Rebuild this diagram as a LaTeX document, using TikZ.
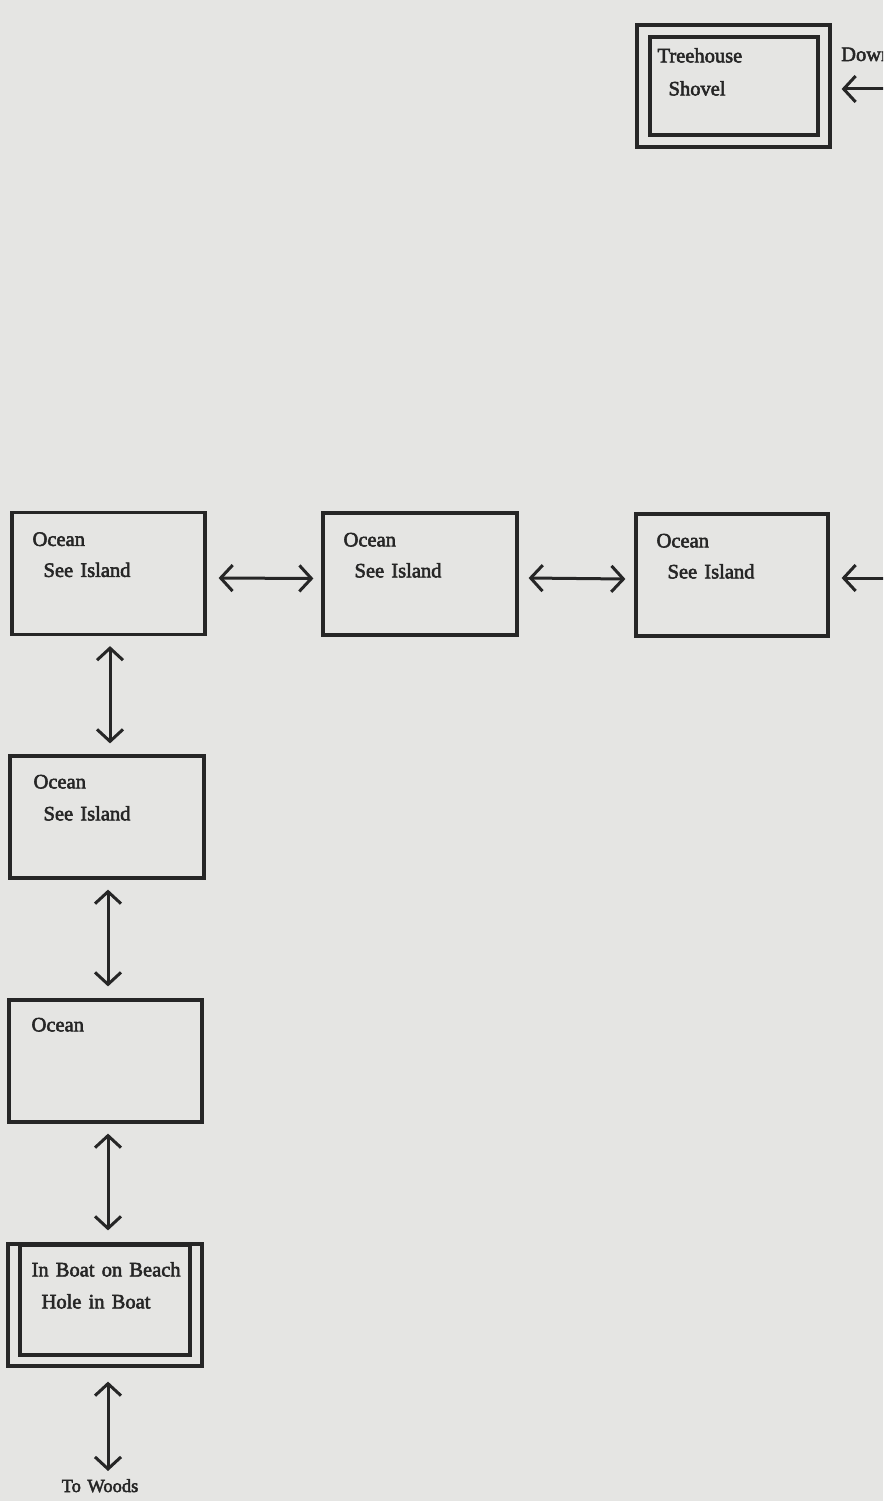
\documentclass[tikz,border=0pt]{standalone}
\usepackage{fontspec}
\newfontfamily\roomfont{Liberation Serif}[UprightFeatures={FakeBold=2.6}, WordSpace=1.4]
\usetikzlibrary{arrows.meta}
\definecolor{paper}{HTML}{E5E5E3}
\definecolor{ink}{HTML}{262626}
\tikzset{
  room/.style={draw=ink, line width=3.2pt, rectangle, inner sep=0pt,
               minimum width=#1, minimum height=122pt},
  room/.default=193pt,
  lbl/.style={text=ink, inner sep=0pt, anchor=base west, font=\roomfont\fontsize{20.5}{24}\selectfont},
  both/.style={draw=ink, line width=3pt, {Straight Barb[length=12pt,width=26pt]}-{Straight Barb[length=12pt,width=26pt]}},
  into/.style={draw=ink, line width=3pt, -{Straight Barb[length=12pt,width=26pt]}}
}
\begin{document}
\begin{tikzpicture}[x=1pt, y=-1pt]
  \useasboundingbox (0,0) rectangle (883,1501);
  \fill[paper] (0,0) rectangle (883,1501);
  \clip (0,0) rectangle (883,1501);

  % Treehouse (double frame)
  \node[room] (tree) at (733.5,86) {};
  \node[room, minimum width=168pt, minimum height=98pt] (treein) at (734,86) {};
  \node[lbl] (t1) at ([xshift=9pt,yshift=-27pt]treein.north west) {Treehouse};
  \node[lbl] (t2) at ([xshift=20pt,yshift=-60pt]treein.north west) {Shovel};
  \node[lbl] (down) at (841,61) {Down};
  \coordinate (downin) at (890,89);
  \draw[into] (downin) -- ([xshift=10pt,yshift=-3pt]tree.east);

  % Row of ocean rooms
  \node[room] (A) at (108.5,573.5) {};
  \node[room, minimum width=194pt] (B) at (420,574) {};
  \node[room, minimum width=192pt] (C) at (732,575) {};
  \foreach \r in {A,B,C}{
    \node[lbl] (\r1) at ([xshift=22pt,yshift=-35pt]\r.north west) {Ocean};
    \node[lbl] (\r2) at ([xshift=33pt,yshift=-66pt]\r.north west) {See Island};
  }
  \draw[both] ([xshift=12pt,yshift=-4.5pt]A.east) -- ([xshift=-8pt,yshift=-4.5pt]B.west);
  \draw[both] ([xshift=10pt,yshift=-4pt]B.east) -- ([xshift=-9pt,yshift=-4pt]C.west);
  \coordinate (eastin) at (890,578);
  \draw[into] (eastin) -- ([xshift=12pt,yshift=-3pt]C.east);

  % Column down to the beach
  \node[room, minimum width=194pt] (D) at (107,817) {};
  \node[lbl] (D1) at ([xshift=25pt,yshift=-34pt]D.north west) {Ocean};
  \node[lbl] (D2) at ([xshift=35pt,yshift=-66pt]D.north west) {See Island};
  \node[room] (E) at (105.5,1061) {};
  \node[lbl] (E1) at ([xshift=24pt,yshift=-33pt]E.north west) {Ocean};

  \node[room, minimum width=194pt] (F) at (105,1305) {};
  \node[draw=ink, line width=3.2pt, inner sep=0pt, minimum width=170pt, minimum height=110pt] (Fin) at (105,1300) {};
  \node[lbl] (F1) at ([xshift=25pt,yshift=-34pt]F.north west) {In Boat on Beach};
  \node[lbl] (F2) at ([xshift=35pt,yshift=-66pt]F.north west) {Hole in Boat};

  \node[text=ink, inner sep=0pt, anchor=base, font=\roomfont\fontsize{18.5}{22}\selectfont] (woods) at (100,1492) {To Woods};

  \draw[both] ([xshift=1.5pt,yshift=-10pt]A.south) -- ([xshift=3pt,yshift=11pt]D.north);
  \draw[both] ([xshift=1pt,yshift=-10pt]D.south) -- ([xshift=2.5pt,yshift=12pt]E.north);
  \draw[both] ([xshift=2.5pt,yshift=-10pt]E.south) -- ([xshift=3pt,yshift=12pt]F.north);
  \draw[both] ([xshift=3pt,yshift=-14pt]F.south) -- ([xshift=8pt,yshift=8pt]woods.north);
\end{tikzpicture}
\end{document}
